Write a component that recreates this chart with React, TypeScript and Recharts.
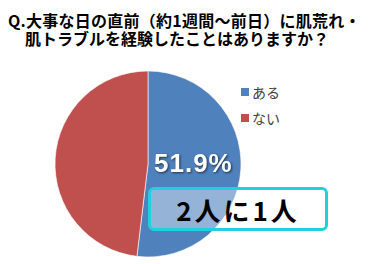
import React from "react";
import { PieChart, Pie, Cell, Legend } from "recharts";

const categories = ["ある", "ない"];
const values = [51.9, 48.1];
const colors = ["#4f81bd", "#c0504d"];
const titleLines = ["Q.大事な日の直前（約1週間～前日）に肌荒れ・", "肌トラブルを経験したことはありますか？"];
const calloutText = "2人に1人";

const data = categories.map((name, i) => ({ name, value: values[i] }));

const JP = '"Noto Sans CJK JP", "Noto Sans", sans-serif';

const renderLabel = (props: any) => {
  const { cx, cy, index, value } = props;
  if (index !== 0) return null;
  return (
    <text
      x={cx + 6}
      y={cy + 8}
      fill="#ffffff"
      fontSize={26}
      fontWeight="bold"
      fontFamily="Arial, 'Liberation Sans', sans-serif"
      letterSpacing={1}
      style={{ filter: "drop-shadow(1px 1px 1px rgba(0,0,0,0.6))" }}
    >
      {value.toFixed(1)}%
    </text>
  );
};

const LegendContent = () => (
  <div style={{ fontFamily: JP, fontSize: 14, color: "#404040" }}>
    {data.map((d, i) => (
      <div key={d.name} style={{ display: "flex", alignItems: "center", height: 26 }}>
        <span style={{ display: "inline-block", width: 8, height: 8, background: colors[i], marginRight: 3 }} />
        <span>{d.name}</span>
      </div>
    ))}
  </div>
);

export default function App() {
  return (
    <div style={{ position: "absolute", left: 0, top: 0, width: 373, height: 264, background: "#fff" }}>
      <div
        style={{
          position: "absolute",
          left: 8,
          top: 11,
          fontFamily: JP,
          fontWeight: "bold",
          fontSize: 16,
          lineHeight: "18px",
          color: "#000",
          whiteSpace: "nowrap",
        }}
      >
        <div style={{ letterSpacing: 0.25 }}>{titleLines[0]}</div>
        <div style={{ paddingLeft: 17 }}>{titleLines[1]}</div>
      </div>
      <PieChart width={373} height={264} style={{ position: "absolute", left: 0, top: 0 }}>
        <Pie
          data={data}
          dataKey="value"
          nameKey="name"
          cx={143}
          cy={159}
          outerRadius={93}
          startAngle={90}
          endAngle={-270}
          stroke="#ffffff"
          strokeWidth={0.6}
          label={renderLabel}
          labelLine={false}
          isAnimationActive={false}
        >
          {data.map((d, i) => (
            <Cell key={d.name} fill={colors[i]} />
          ))}
        </Pie>
        <Legend
          layout="vertical"
          content={<LegendContent />}
          wrapperStyle={{ position: "absolute", left: 241, top: 79, width: 60 }}
        />
      </PieChart>
      <div
        style={{
          position: "absolute",
          left: 148,
          top: 187,
          width: 180,
          height: 44,
          boxSizing: "border-box",
          border: "3px solid #1fd0e0",
          borderRadius: 6,
          background: "rgba(255,255,255,0.4)",
          display: "flex",
          alignItems: "center",
          justifyContent: "center",
          fontFamily: JP,
          fontWeight: "bold",
          fontSize: 26,
          letterSpacing: 3,
          color: "#000",
        }}
      >
        {calloutText}
      </div>
    </div>
  );
}
